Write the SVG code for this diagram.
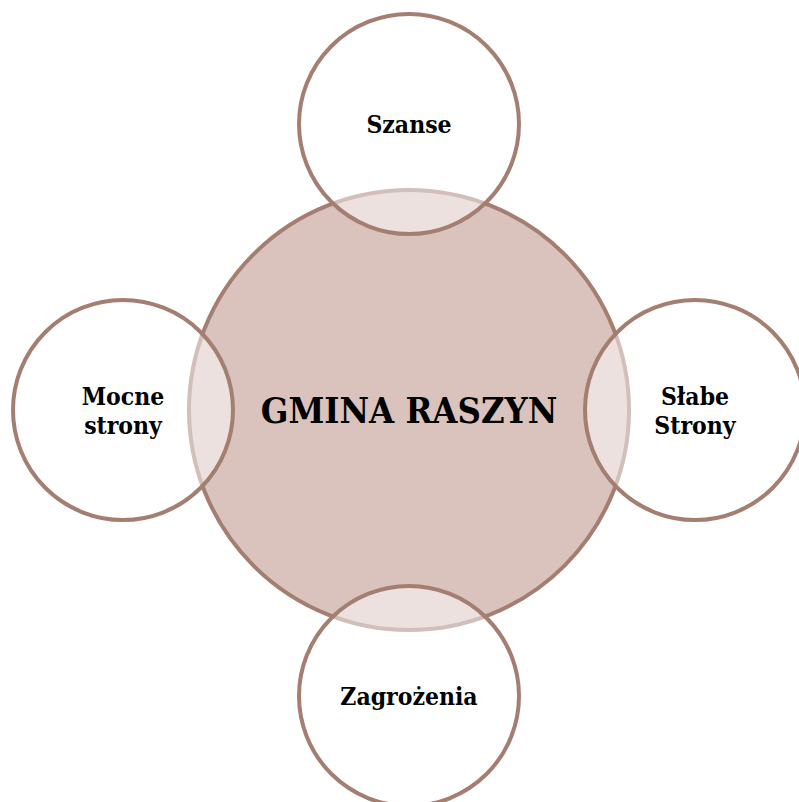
<svg xmlns="http://www.w3.org/2000/svg" width="799" height="802" viewBox="0 0 799 802">
<style>
.main{fill:#D9C3BC;stroke:#A57E72;stroke-width:4}
.sat{fill:#FFFFFF;fill-opacity:0.5;stroke:#A57E72;stroke-width:4}
text{font-family:"DejaVu Serif Condensed","DejaVu Serif","Liberation Serif",serif;font-weight:bold;fill:#000;text-anchor:middle}
.big{font-size:36px}
.small{font-size:24.5px}
</style>
<rect width="799" height="802" fill="#FFFFFF"/>
<g id="center">
<circle class="main" cx="409" cy="410" r="220"/>
<text class="big" x="409" y="423">GMINA RASZYN</text>
</g>
<g id="szanse">
<circle class="sat" cx="409" cy="124" r="110"/>
<text class="small" x="409" y="133">Szanse</text>
</g>
<g id="mocne">
<circle class="sat" cx="123" cy="410" r="110"/>
<text class="small" x="123" y="405">Mocne</text>
<text class="small" x="123" y="434">strony</text>
</g>
<g id="slabe">
<circle class="sat" cx="695" cy="410" r="110"/>
<text class="small" x="695" y="405">Słabe</text>
<text class="small" x="695" y="434">Strony</text>
</g>
<g id="zagrozenia">
<circle class="sat" cx="409" cy="696" r="110"/>
<text class="small" x="409" y="705">Zagrożenia</text>
</g>
<g id="connectors"/>
</svg>
